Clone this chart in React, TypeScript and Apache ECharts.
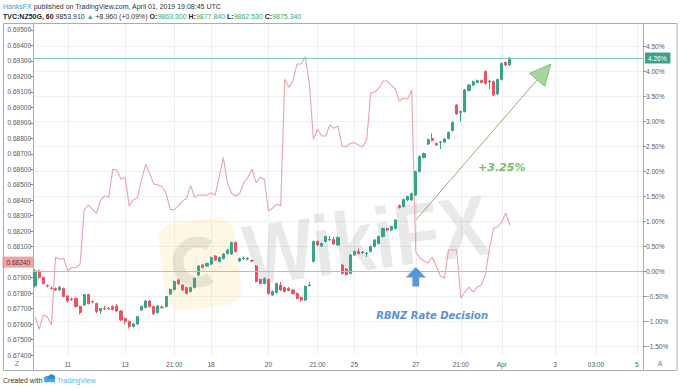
import React, { useEffect, useRef } from 'react';
import * as echarts from 'echarts';

// ---------- data ----------
const slotCount = 149;
const xTickIndex = [8, 22, 34, 43, 57, 69, 78, 93, 104, 114, 127, 137, 147];
const xTickText = ['11', '13', '21:00', '18', '20', '21:00', '25', '27', '21:00', 'Apr', '3', '03:00', '5'];

const leftTicks = [0.674, 0.675, 0.676, 0.677, 0.678, 0.679, 0.68, 0.681, 0.682, 0.683, 0.684, 0.685, 0.686, 0.687, 0.688, 0.689, 0.69, 0.691, 0.692, 0.693, 0.694, 0.695];
const rightTicks = [-1.5, -1, -0.5, 0, 0.5, 1, 1.5, 2, 2.5, 3, 3.5, 4, 4.5];

// TVC:NZ50G, hourly, % change
const nz50Open = [
  -0.30, 0.00, -0.13, -0.29, -0.34, -0.35, -0.38, -0.35, -0.50, -0.56,
  -0.55, -0.71, -0.68, -0.47, -0.61, -0.65, -0.80, -0.75, -0.75, -0.71,
  -0.70, -0.80, -0.95, -1.01, -1.11, -1.06, -0.78, -0.73, -0.60, -0.71,
  -0.83, -0.72, -0.71, -0.46, -0.37, -0.18, -0.28, -0.33, -0.41, -0.33,
  -0.08, 0.12, 0.10, 0.14, 0.30, 0.19, 0.25, 0.35, 0.34, 0.57,
  0.20, 0.25, 0.24, 0.21, 0.10, -0.17, -0.25, -0.17, -0.48, -0.43,
  -0.28, -0.33, -0.35, -0.38, -0.45, -0.53, -0.58, -0.29, 0.19, 0.59,
  0.50, 0.59, 0.62, 0.63, 0.52, 0.12, 0.04, -0.05, 0.32, 0.39,
  0.37, 0.35, 0.39, 0.49, 0.55, 0.69, 0.85, 0.82, 0.85, 1.31,
  1.29, 1.42, 1.42, 1.52, 1.99, 2.27, 2.54, 2.65, 2.55, 2.57,
  2.58, 2.65, 2.81, 3.32, 3.17, 3.19, 3.61, 3.72, 3.77, 3.81,
  3.99, 3.78, 3.79, 3.54, 3.83, 4.17, 4.12,
];
const nz50Close = [
  0.00, -0.13, -0.25, -0.30, -0.35, -0.38, -0.33, -0.51, -0.60, -0.57,
  -0.71, -0.83, -0.47, -0.65, -0.62, -0.81, -0.75, -0.76, -0.76, -0.77,
  -0.80, -0.98, -1.01, -1.11, -1.06, -0.91, -0.71, -0.60, -0.71, -0.85,
  -0.70, -0.73, -0.51, -0.37, -0.21, -0.26, -0.38, -0.45, -0.33, -0.15,
  0.10, 0.07, 0.15, 0.27, 0.22, 0.27, 0.34, 0.42, 0.57, 0.39,
  0.25, 0.26, 0.25, 0.20, -0.21, -0.25, -0.15, -0.45, -0.41, -0.25,
  -0.38, -0.41, -0.39, -0.45, -0.55, -0.58, -0.31, -0.28, 0.59, 0.52,
  0.55, 0.69, 0.63, 0.54, 0.67, -0.05, -0.07, 0.32, 0.39, 0.35,
  0.38, 0.36, 0.49, 0.62, 0.69, 0.85, 0.82, 0.89, 1.02, 1.27,
  1.43, 1.49, 1.55, 1.99, 2.29, 2.35, 2.63, 2.61, 2.52, 2.58,
  2.64, 2.77, 2.97, 3.14, 3.19, 3.62, 3.72, 3.79, 3.81, 3.77,
  3.75, 3.80, 3.52, 3.83, 4.15, 4.12, 4.26,
];
const nz50Low = [
  -0.33, -0.15, -0.27, -0.33, -0.37, -0.40, -0.40, -0.53, -0.63, -0.60,
  -0.73, -0.87, -0.70, -0.67, -0.65, -0.84, -0.86, -0.78, -0.78, -0.79,
  -0.82, -1.00, -1.06, -1.15, -1.13, -1.08, -0.80, -0.75, -0.73, -0.88,
  -0.85, -0.76, -0.73, -0.48, -0.39, -0.28, -0.40, -0.47, -0.43, -0.35,
  -0.10, 0.05, 0.08, 0.12, 0.20, 0.17, 0.23, 0.33, 0.32, 0.37,
  0.18, 0.22, 0.21, 0.17, -0.23, -0.27, -0.27, -0.47, -0.50, -0.45,
  -0.40, -0.43, -0.41, -0.47, -0.57, -0.62, -0.60, -0.31, 0.17, 0.50,
  0.48, 0.57, 0.60, 0.52, 0.50, -0.07, -0.09, -0.07, 0.30, 0.33,
  0.34, 0.28, 0.37, 0.47, 0.53, 0.67, 0.80, 0.80, 0.83, 1.25,
  1.27, 1.40, 1.40, 1.50, 1.97, 2.25, 2.52, 2.59, 2.50, 2.44,
  2.56, 2.63, 2.79, 3.12, 2.99, 3.17, 3.59, 3.70, 3.75, 3.75,
  3.73, 3.64, 3.50, 3.52, 3.81, 4.10, 4.10,
];
const nz50High = [
  0.03, 0.03, -0.11, -0.27, -0.31, -0.33, -0.29, -0.33, -0.48, -0.53,
  -0.53, -0.69, -0.46, -0.46, -0.59, -0.63, -0.74, -0.70, -0.72, -0.69,
  -0.66, -0.78, -0.93, -0.99, -1.04, -0.90, -0.69, -0.58, -0.58, -0.69,
  -0.68, -0.69, -0.50, -0.35, -0.19, -0.15, -0.26, -0.31, -0.31, -0.13,
  0.12, 0.14, 0.17, 0.29, 0.32, 0.29, 0.36, 0.44, 0.59, 0.59,
  0.27, 0.29, 0.28, 0.23, 0.12, -0.15, -0.13, -0.15, -0.39, -0.23,
  -0.22, -0.31, -0.32, -0.36, -0.43, -0.51, -0.29, -0.22, 0.61, 0.61,
  0.57, 0.71, 0.70, 0.68, 0.69, 0.14, 0.06, 0.34, 0.41, 0.45,
  0.40, 0.38, 0.51, 0.64, 0.71, 0.87, 0.87, 0.91, 1.04, 1.33,
  1.45, 1.51, 1.57, 2.01, 2.31, 2.37, 2.65, 2.75, 2.57, 2.60,
  2.66, 2.79, 2.99, 3.34, 3.21, 3.64, 3.74, 3.81, 3.83, 3.83,
  4.01, 3.82, 3.81, 3.85, 4.17, 4.19, 4.28,
];

// NZD/USD hourly close (left scale)
const nzdusd = [
  0.67647, 0.67566, 0.67658, 0.67647, 0.67594, 0.68031, 0.68018, 0.68025, 0.67945, 0.67964,
  0.67964, 0.67986, 0.68337, 0.68369, 0.68341, 0.68315, 0.68401, 0.68427, 0.68419, 0.68600,
  0.68595, 0.68535, 0.68548, 0.68363, 0.68401, 0.68416, 0.68530, 0.68632, 0.68574, 0.68505,
  0.68498, 0.68487, 0.68445, 0.68341, 0.68337, 0.68363, 0.68395, 0.68412, 0.68494, 0.68419,
  0.68434, 0.68434, 0.68434, 0.68448, 0.68432, 0.68552, 0.68677, 0.68509, 0.68445, 0.68427,
  0.68445, 0.68513, 0.68548, 0.68600, 0.68513, 0.68548, 0.68535, 0.68332, 0.68348, 0.68374,
  0.68363, 0.69181, 0.69129, 0.69172, 0.69280, 0.69280, 0.69327, 0.69155, 0.68793, 0.68858,
  0.68815, 0.68815, 0.68886, 0.68864, 0.68879, 0.68750, 0.68746, 0.68768, 0.68772, 0.68757,
  0.68746, 0.68789, 0.69093, 0.69099, 0.69125, 0.69170, 0.69170, 0.69144, 0.69118, 0.69041,
  0.69060, 0.69054, 0.69112, 0.68065, 0.68027, 0.68007, 0.67994, 0.68033, 0.67975, 0.67910,
  0.67897, 0.68078, 0.68078, 0.68078, 0.67768, 0.67807, 0.67839, 0.67807, 0.67839, 0.67852,
  0.67917, 0.68091, 0.68220, 0.68227, 0.68259, 0.68317, 0.68240,
];

const lastPct = 4.26;
const lastNzd = 0.6824;
const baselinePct = 0;

// annotations (category index, % value)
const gainArrowFrom = [93, 1.02];
const gainArrowTo = [126, 4.14];
const gainText = '+3.25%';
const gainTextAt = [114, 2.08];
const eventArrowAt = [93, 0];
const eventText = 'RBNZ Rate Decision';
const eventTextAt = [97, -0.88];

const headerLine1 = ['HanksFX', ' published on TradingView.com, April 01, 2019 19:08:45 UTC'];
const headerSymbol = 'TVC:NZ50G, 60';
const headerLast = '9853.910';
const headerChange = '+8.960 (+0.09%)';
const headerOHLC = [['O:', '9863.300'], ['H:', '9877.840'], ['L:', '9862.530'], ['C:', '9875.340']];

// ---------- styles ----------
const FONT = "'Liberation Sans', Arial, sans-serif";
const UP = '#39a48b';
const DOWN = '#ea5461';
const PINK = '#eca2a8';
const FRAME = '#a9aeb4';
const GRIDC = '#edf0f3';
const LABEL = '#555b61';

export default function App() {
  const ref = useRef<HTMLDivElement>(null);

  useEffect(() => {
    document.body.style.margin = '0';
    const chart = echarts.init(ref.current!, null, { renderer: 'svg' });

    const labelMap: Record<number, string> = {};
    xTickIndex.forEach((idx, k) => { labelMap[idx] = xTickText[k]; });
    const categories = Array.from({ length: slotCount }, (_, i) => String(i));
    const showTick = (i: number) => labelMap[i] !== undefined;
    const candles = nz50Open.map((o, i) => [o, nz50Close[i], nz50Low[i], nz50High[i]]);

    const pctFmt = (v: number) => (v < 0 ? '\u2212' + Math.abs(v).toFixed(2) : v.toFixed(2)) + '%';

    chart.setOption({
      animation: false,
      grid: { left: 33, right: 37, top: 24, bottom: 35, containLabel: false },
      xAxis: {
        type: 'category',
        data: categories,
        boundaryGap: true,
        axisLine: { show: true, lineStyle: { color: FRAME } },
        axisTick: { show: false, alignWithLabel: true, interval: (i: number) => showTick(i) },
        axisLabel: {
          interval: (i: number) => showTick(i),
          formatter: (v: string) => labelMap[Number(v)] ?? '',
          fontSize: 6.5, color: LABEL, fontFamily: FONT, margin: 6,
        },
        splitLine: { show: true, alignWithLabel: true, interval: (i: number) => showTick(i), lineStyle: { color: GRIDC, width: 1 } },
      },
      yAxis: [
        {
          type: 'value', position: 'left', min: 0.674, max: 0.695382,
          axisLine: { show: true, lineStyle: { color: FRAME } },
          axisTick: { show: true, length: 3, customValues: leftTicks, lineStyle: { color: '#8a9096' } },
          axisLabel: { customValues: leftTicks, formatter: (v: number) => v.toFixed(5), fontSize: 6.5, color: LABEL, fontFamily: FONT, margin: 2, showMinLabel: true, showMaxLabel: true },
          splitLine: { show: false },
        },
        {
          type: 'value', position: 'right', min: -1.68, max: 4.94,
          axisLine: { show: true, lineStyle: { color: FRAME } },
          axisTick: { show: true, length: 3, customValues: rightTicks, lineStyle: { color: '#8a9096' } },
          axisLabel: { customValues: rightTicks, formatter: pctFmt, fontSize: 6.5, color: LABEL, fontFamily: FONT, margin: 3 },
          splitLine: { show: true, lineStyle: { color: GRIDC, width: 1 } },
        },
      ],
      series: [
        {
          name: 'NZDUSD', type: 'line', yAxisIndex: 0, data: nzdusd, symbol: 'none',
          lineStyle: { color: PINK, width: 1.1 }, z: 2,
          markLine: {
            silent: true, symbol: ['none', 'none'], animation: false,
            data: [{
              yAxis: lastNzd,
              lineStyle: { color: 'rgba(0,0,0,0)', width: 0 },
              label: {
                show: true, position: 'start', formatter: () => lastNzd.toFixed(5), distance: 0,
                backgroundColor: '#eea3a7', color: '#5a3a3c', fontSize: 6.5, fontFamily: FONT, padding: [2, 3, 2, 4],
              },
            }],
          },
        },
        {
          name: 'NZ50G', type: 'candlestick', yAxisIndex: 1, data: candles, barWidth: 2.6, z: 3,
          itemStyle: { color: UP, color0: DOWN, borderColor: UP, borderColor0: DOWN, borderWidth: 1 },
          markLine: {
            silent: true, symbol: ['none', 'none'], animation: false,
            data: [
              { yAxis: baselinePct, lineStyle: { color: '#b8bcc1', width: 1, type: 'solid' }, label: { show: false } },
              {
                yAxis: lastPct, lineStyle: { color: '#7fcbbd', width: 1, type: 'solid' },
                label: {
                  show: true, position: 'end', formatter: () => lastPct.toFixed(2) + '%', distance: 2,
                  backgroundColor: UP, color: '#ffffff', fontSize: 6.5, fontFamily: FONT, padding: [2, 4, 2, 3],
                },
              },
            ],
          },
        },
      ],
    });

    const px = (p: number[]) => chart.convertToPixel({ seriesIndex: 1 }, p) as number[];

    // green arrow
    const a0 = px(gainArrowFrom);
    const a1 = px(gainArrowTo);
    const dx = a1[0] - a0[0], dy = a1[1] - a0[1];
    const len = Math.sqrt(dx * dx + dy * dy);
    const ux = dx / len, uy = dy / len;
    const headLen = 21, headHalf = 10;
    const bx = a1[0] - ux * headLen, by = a1[1] - uy * headLen;
    const headPts = [
      [a1[0], a1[1]],
      [bx - uy * headHalf, by + ux * headHalf],
      [bx + uy * headHalf, by - ux * headHalf],
    ];
    const gt = px(gainTextAt);
    const ea = px(eventArrowAt);
    const et = px(eventTextAt);
    const ex = ea[0], ey = ea[1];
    const blueArrow = [
      [ex, ey - 4], [ex + 10, ey + 6.5], [ex + 3.4, ey + 6.5], [ex + 3.4, ey + 15.5],
      [ex - 3.4, ey + 15.5], [ex - 3.4, ey + 6.5], [ex - 10, ey + 6.5],
    ];

    const rich1 = {
      blue: { fill: '#3a9ad9', fontSize: 7, fontFamily: FONT },
      dark: { fill: '#333', fontSize: 7, fontFamily: FONT },
    };
    const rich2 = {
      bold: { fill: '#222', fontSize: 7, fontFamily: FONT, fontWeight: 'bold' },
      dark: { fill: '#333', fontSize: 7, fontFamily: FONT },
      green: { fill: '#3dab6a', fontSize: 7, fontFamily: FONT },
    };
    const line2 =
      `{bold|${headerSymbol}}{dark| ${headerLast} }{green|\u25B2}{dark| ${headerChange} }` +
      headerOHLC.map(([k, v]) => `{bold|${k}}{green|${v} }`).join('');

    chart.setOption({
      graphic: {
        elements: [
          // watermark logo
          {
            type: 'rect', x: 200, y: 264, rotation: 0.12, z: 0, silent: true,
            shape: { x: -38, y: -44, width: 76, height: 88, r: 16 },
            style: { fill: 'rgba(246, 214, 120, 0.2)' },
          },
          {
            type: 'arc', z: 0, silent: true,
            shape: { cx: 198, cy: 262, r: 20, startAngle: 0.9, endAngle: 5.3 },
            style: { stroke: 'rgba(0,0,0,0.08)', lineWidth: 11, fill: 'none' },
          },
          {
            type: 'text', x: 366, y: 240, rotation: 0.13, scaleX: 0.86, z: 0, silent: true,
            style: {
              text: 'WikiFX', fill: 'rgba(0,0,0,0.085)', fontSize: 86, fontWeight: 'bold', fontFamily: FONT,
              align: 'center', verticalAlign: 'middle', textAlign: 'center', textVerticalAlign: 'middle',
            },
          },
          // frame
          {
            type: 'rect', z: 10, silent: true,
            shape: { x: 3.5, y: 23.5, width: 673.5, height: 347 },
            style: { fill: 'none', stroke: FRAME, lineWidth: 1 },
          },
          { type: 'line', z: 10, silent: true, shape: { x1: 33.5, y1: 355, x2: 33.5, y2: 370 }, style: { stroke: FRAME, lineWidth: 1 } },
          { type: 'line', z: 10, silent: true, shape: { x1: 643.5, y1: 355, x2: 643.5, y2: 370 }, style: { stroke: FRAME, lineWidth: 1 } },
          {
            type: 'text', x: 17, y: 363, z: 10, silent: true,
            style: { text: 'Z', fill: '#777', fontSize: 7, fontFamily: FONT, align: 'center', verticalAlign: 'middle', textAlign: 'center', textVerticalAlign: 'middle' },
          },
          {
            type: 'text', x: 660, y: 363, z: 10, silent: true,
            style: { text: 'A', fill: '#777', fontSize: 7, fontFamily: FONT, align: 'center', verticalAlign: 'middle', textAlign: 'center', textVerticalAlign: 'middle' },
          },
          // header
          {
            type: 'text', x: 3, y: 6, z: 10, silent: true,
            style: { text: `{blue|${headerLine1[0]}}{dark|${headerLine1[1]}}`, rich: rich1, verticalAlign: 'middle', textVerticalAlign: 'middle' },
          },
          {
            type: 'text', x: 3, y: 16, z: 10, silent: true,
            style: { text: line2, rich: rich2, verticalAlign: 'middle', textVerticalAlign: 'middle' },
          },
          // footer
          {
            type: 'text', x: 3, y: 380, z: 10, silent: true,
            style: { text: 'Created with', fill: '#333', fontSize: 7, fontFamily: FONT, verticalAlign: 'middle', textVerticalAlign: 'middle' },
          },
          { type: 'circle', z: 10, silent: true, shape: { cx: 47, cy: 379, r: 3.2 }, style: { fill: '#43a9e0' } },
          { type: 'circle', z: 10, silent: true, shape: { cx: 51.5, cy: 378, r: 3.8 }, style: { fill: '#2c8fd0' } },
          { type: 'rect', z: 10, silent: true, shape: { x: 44, y: 379, width: 11, height: 3.2 }, style: { fill: '#43a9e0' } },
          {
            type: 'text', x: 57, y: 380, z: 10, silent: true,
            style: { text: 'TradingView', fill: '#5bb4e6', fontSize: 7, fontFamily: FONT, verticalAlign: 'middle', textVerticalAlign: 'middle' },
          },
          // gain arrow
          {
            type: 'line', z: 20, silent: true,
            shape: { x1: a0[0], y1: a0[1], x2: bx, y2: by },
            style: { stroke: '#9bab74', lineWidth: 1 },
          },
          {
            type: 'polygon', z: 20, silent: true,
            shape: { points: headPts },
            style: { fill: '#a9d59d', stroke: '#86c07a', lineWidth: 1 },
          },
          {
            type: 'text', x: gt[0], y: gt[1], z: 20, silent: true,
            style: {
              text: gainText, fill: '#78bd66', fontSize: 11, fontWeight: 'bold', fontStyle: 'italic', fontFamily: "'DejaVu Sans', sans-serif",
              align: 'center', verticalAlign: 'middle', textAlign: 'center', textVerticalAlign: 'middle',
            },
          },
          // event arrow
          {
            type: 'polygon', z: 20, silent: true,
            shape: { points: blueArrow },
            style: { fill: '#5a96dc' },
          },
          {
            type: 'text', x: et[0], y: et[1], z: 20, silent: true,
            style: {
              text: eventText, fill: '#5b92d6', fontSize: 10, fontWeight: 'bold', fontStyle: 'italic', fontFamily: "'DejaVu Sans', sans-serif",
              align: 'center', verticalAlign: 'middle', textAlign: 'center', textVerticalAlign: 'middle',
            },
          },
        ],
      },
    });

    return () => chart.dispose();
  }, []);

  return <div ref={ref} style={{ width: 680, height: 390 }} />;
}
